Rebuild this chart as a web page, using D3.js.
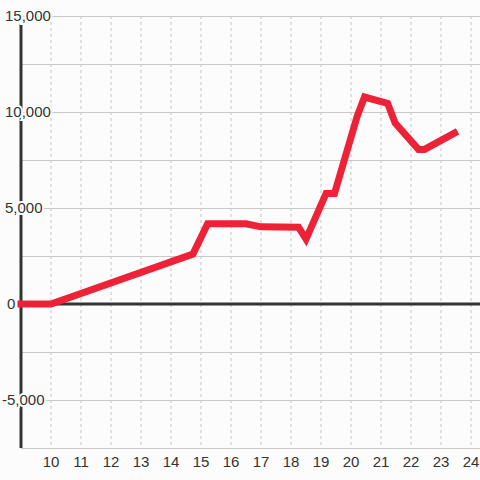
<!DOCTYPE html>
<html>
<head>
<meta charset="utf-8">
<script src="https://cdn.jsdelivr.net/npm/d3@7"></script>
<style>
  html, body { margin: 0; padding: 0; background: #fcfcfc; }
  svg { display: block; }
  text { font-family: "Liberation Sans", Arial, sans-serif; font-size: 15px; fill: #333; }
</style>
</head>
<body>
<script>
const xValues = [9, 10, 14.73, 15.22, 16.5, 17.0, 18.25, 18.5, 19.17, 19.45, 20.2, 20.45, 21.22, 21.47, 22.25, 22.45, 23.45];
const yValues = [0, 0, 2600, 4180, 4180, 4020, 4000, 3380, 5760, 5760, 9750, 10780, 10450, 9430, 8050, 8050, 8900];
const xTicks = [10, 11, 12, 13, 14, 15, 16, 17, 18, 19, 20, 21, 22, 23, 24];
const yGrid = [-7500, -5000, -2500, 0, 2500, 5000, 7500, 10000, 12500, 15000];
const yLabels = [-5000, 0, 5000, 10000, 15000];

const W = 480, H = 480;
const svg = d3.select("body").append("svg").attr("width", W).attr("height", H);
svg.append("rect").attr("width", W).attr("height", H).attr("fill", "#fcfcfc");

const x = d3.scaleLinear().domain([9, 24.3]).range([21, 480]);
const y = d3.scaleLinear().domain([-7500, 15000]).range([448, 16]);

// vertical dashed grid
svg.append("g").selectAll("line").data(xTicks).join("line")
  .attr("x1", d => x(d)).attr("x2", d => x(d))
  .attr("y1", y(15000)).attr("y2", y(-7500))
  .attr("stroke", "#c4c4c4").attr("stroke-width", 1)
  .attr("stroke-dasharray", "3,3");

// horizontal grid
svg.append("g").selectAll("line").data(yGrid).join("line")
  .attr("x1", x(9)).attr("x2", W)
  .attr("y1", d => y(d) + 0.5).attr("y2", d => y(d) + 0.5)
  .attr("stroke", "#c8c8c8").attr("stroke-width", 1);

// y axis line
svg.append("line")
  .attr("x1", x(9)).attr("x2", x(9))
  .attr("y1", y(15000) + 8).attr("y2", y(-7500))
  .attr("stroke", "#333").attr("stroke-width", 3);

// zero line
svg.append("line")
  .attr("x1", x(9)).attr("x2", W)
  .attr("y1", y(0)).attr("y2", y(0))
  .attr("stroke", "#333").attr("stroke-width", 3);

// y labels with halo
const fmt = d3.format(",");
svg.append("g").selectAll("text").data(yLabels).join("text")
  .attr("x", d => d < 0 ? 2 : (d === 0 ? 7 : 5))
  .attr("y", d => y(d))
  .attr("dy", "0.35em")
  .attr("text-anchor", "start")
  .attr("stroke", "#fcfcfc").attr("stroke-width", 4)
  .attr("paint-order", "stroke")
  .text(d => fmt(d).replace("\u2212", "-"));

// x labels
svg.append("g").selectAll("text").data(xTicks).join("text")
  .attr("x", d => x(d))
  .attr("y", 462)
  .attr("dy", "0.35em")
  .attr("text-anchor", "middle")
  .text(d => d);

// data line
const pts = xValues.map((v, i) => [v, yValues[i]]);
const line = d3.line().x(d => x(d[0])).y(d => y(d[1]));
svg.append("path")
  .datum(pts)
  .attr("d", line)
  .attr("fill", "none")
  .attr("stroke", "#ee2237")
  .attr("stroke-width", 7)
  .attr("stroke-linecap", "square")
  .attr("stroke-linejoin", "miter");
</script>
</body>
</html>
